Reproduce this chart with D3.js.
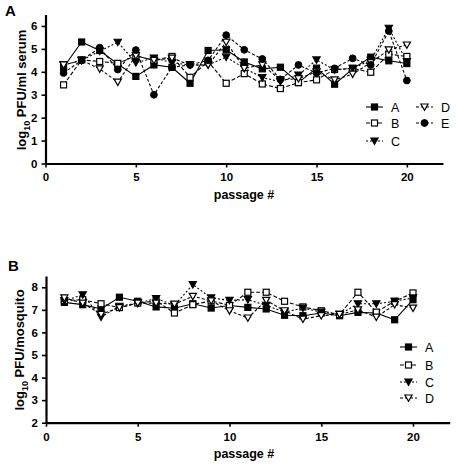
<!DOCTYPE html>
<html><head><meta charset="utf-8">
<script src="https://cdn.jsdelivr.net/npm/d3@7"></script>
<style>body{margin:0;background:#fff}svg{display:block}text{font-family:"Liberation Sans",Arial,sans-serif}</style>
</head><body>
<svg id="c" width="456" height="464"></svg>
<script>
const passages = d3.range(1, 21);
// Panel A: log10 PFU/ml serum
const serumA = [4.2,5.3,4.93,4.34,3.8,4.3,4.2,3.5,4.93,4.96,4.43,4.13,4.2,3.53,4.16,3.46,4.13,4.64,4.48,4.36];
const serumB = [3.43,4.52,4.45,4.37,4.7,4.5,4.67,3.76,4.45,3.5,3.92,3.47,3.27,3.53,3.65,4.1,4.15,3.98,4.77,4.67];
const serumC = [4.3,4.5,4.9,5.29,4.4,4.6,4.4,4.3,4.3,4.64,4.16,3.75,3.57,3.86,4.52,4.08,4.15,4.5,5.9,4.45];
const serumD = [4.3,4.5,4.13,3.55,4.7,4.5,4.6,4.3,4.3,5.29,4.15,4.3,3.65,3.7,4.0,3.65,3.9,4.4,4.96,5.17];
const serumE = [3.95,4.5,5.05,4.1,4.95,3.0,4.2,4.3,4.5,5.6,4.96,4.56,3.67,4.3,3.95,4.15,4.59,4.3,5.78,3.62];
// Panel B: log10 PFU/mosquito
const mosqA = [7.33,7.23,7.04,7.56,7.38,7.13,7.07,7.27,7.08,7.19,7.11,7.04,6.76,6.74,6.86,6.74,6.89,6.86,6.56,7.45];
const mosqB = [7.41,7.45,7.27,7.1,7.3,7.4,6.86,7.23,7.4,7.2,7.78,7.78,7.38,7.13,6.96,6.79,7.78,6.9,7.38,7.75];
const mosqC = [7.4,7.67,6.68,7.16,7.3,7.5,7.2,8.12,7.53,7.42,7.45,7.2,6.9,7.08,6.9,6.8,7.27,7.27,7.38,7.53];
const mosqD = [7.53,7.3,6.8,7.1,7.3,7.3,7.25,7.6,7.4,6.96,6.64,7.42,6.96,6.59,6.74,6.8,7.0,6.68,7.23,7.08];
const xTicks = [0,5,10,15,20];
const yTicksA = [0,1,2,3,4,5,6];
const yTicksB = [2,3,4,5,6,7,8];

const svg = d3.select("#c");
const styles = {
  A:{dash:null, sym:"square", fill:"#000"},
  B:{dash:"4,2", sym:"square", fill:"#fff"},
  C:{dash:"2,2", sym:"tri", fill:"#000"},
  D:{dash:"3,2", sym:"tri", fill:"#fff"},
  E:{dash:"3,2", sym:"circle", fill:"#000"}
};
function drawMarker(g, st, cx, cy){
  if(st.sym==="square"){
    g.append("rect").attr("x",cx-3).attr("y",cy-3).attr("width",6).attr("height",6)
      .attr("fill",st.fill).attr("stroke","#000").attr("stroke-width",1.2);
  } else if(st.sym==="circle"){
    g.append("circle").attr("cx",cx).attr("cy",cy).attr("r",3.4).attr("fill",st.fill).attr("stroke","#000");
  } else {
    g.append("path").attr("d",`M${cx-3.6},${cy-3}L${cx+3.6},${cy-3}L${cx},${cy+3.4}Z`)
      .attr("fill",st.fill).attr("stroke","#000").attr("stroke-width",1.2);
  }
}
function panel(o){
  const x = d3.scaleLinear().domain([0,22]).range(o.xr);
  const y = d3.scaleLinear().domain(o.yd).range(o.yr);
  const g = svg.append("g");
  const line = d3.line().x((d,i)=>x(passages[i])).y(d=>y(d));
  o.series.forEach(([k,vals])=>{
    const st = styles[k];
    g.append("path").datum(vals).attr("d",line).attr("fill","none").attr("stroke","#000")
      .attr("stroke-width",1.1).attr("stroke-dasharray",st.dash);
  });
  o.series.forEach(([k,vals])=>{
    vals.forEach((v,i)=>drawMarker(g, styles[k], x(passages[i]), y(v)));
  });
  const fmt = d3.format("d");
  const xa = g.append("g").attr("transform",`translate(0,${o.yr[0]})`)
    .call(d3.axisBottom(x).tickValues(xTicks).tickFormat(fmt).tickSize(4).tickSizeOuter(0));
  const ya = g.append("g").attr("transform",`translate(${o.xr[0]},0)`)
    .call(d3.axisLeft(y).tickValues(o.yt).tickFormat(fmt).tickSize(4).tickSizeOuter(0));
  [xa,ya].forEach(a=>{
    a.select(".domain").attr("stroke-width",2.2);
    a.selectAll(".tick line").attr("stroke-width",1.6);
    a.selectAll(".tick text").attr("font-size",11.5).attr("font-weight","bold")
      .attr("font-family",'"Liberation Sans",Arial,sans-serif');
  });
  xa.selectAll(".tick text").attr("dy","0.95em");
  ya.selectAll(".tick text").attr("dx","-1");
  svg.append("text").attr("x",o.letter[0]).attr("y",o.letter[1]).text(o.label)
    .attr("font-size",15).attr("font-weight","bold");
  svg.append("text").attr("x",244).attr("y",o.yr[0]+35).attr("text-anchor","middle")
    .attr("font-size",12.5).attr("font-weight","bold").text("passage #");
  const yt = svg.append("text").attr("transform",`translate(${o.ytx},${o.ytc}) rotate(-90)`)
    .attr("text-anchor","middle").attr("font-size",13).attr("font-weight","bold");
  yt.append("tspan").text("log");
  yt.append("tspan").text("10").attr("font-size",9).attr("dy",4);
  yt.append("tspan").text(" PFU/" + o.unit).attr("dy",-4);
  o.legend.forEach(([k,lx,ly])=>{
    const st = styles[k];
    svg.append("line").attr("x1",lx).attr("x2",lx+17).attr("y1",ly).attr("y2",ly)
      .attr("stroke","#000").attr("stroke-width",1.1).attr("stroke-dasharray",st.dash);
    drawMarker(svg, st, lx+8.5, ly);
    svg.append("text").attr("x",lx+25).attr("y",ly+4.5).attr("font-size",12.5).text(k);
  });
}
panel({xr:[45.5,443], yd:[0,6.5], yr:[163.5,14.5], yt:yTicksA, label:"A", letter:[5,16],
  series:[["A",serumA],["B",serumB],["C",serumC],["D",serumD],["E",serumE]],
  ytx:26, ytc:90, unit:"ml serum",
  legend:[["A",366,107],["B",366,123],["C",366,141],["D",416,107],["E",416,123]]});
panel({xr:[46,449.7], yd:[2,8.5], yr:[422.7,276], yt:yTicksB, label:"B", letter:[8,271],
  series:[["A",mosqA],["B",mosqB],["C",mosqC],["D",mosqD]],
  ytx:24, ytc:350, unit:"mosquito",
  legend:[["A",400,347],["B",400,365],["C",400,382],["D",400,398]]});
</script>
</body></html>
